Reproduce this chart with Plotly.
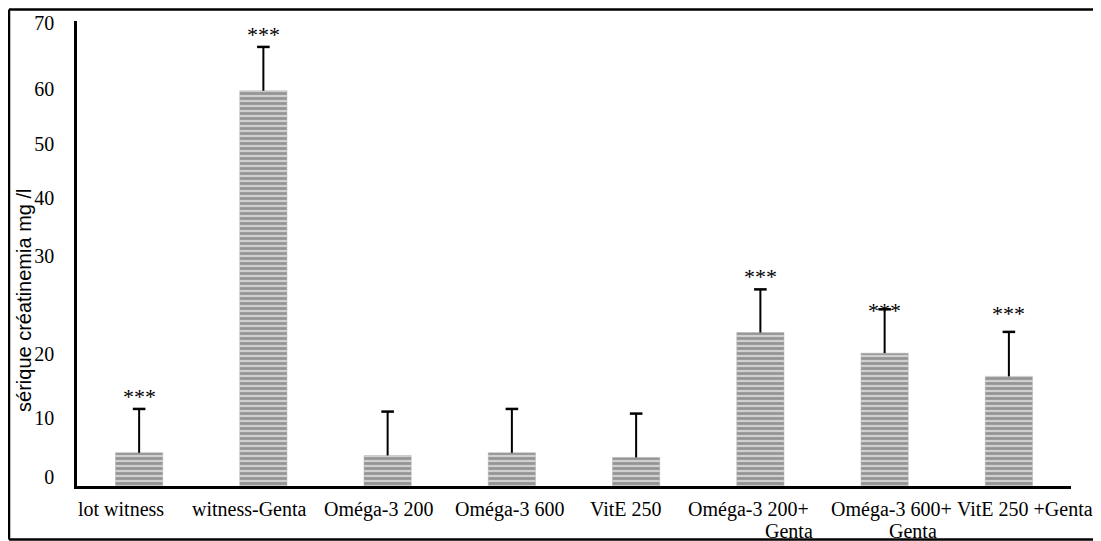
import plotly.graph_objects as go

# ---- data ----
categories = ["lot witness", "witness-Genta", "Oméga-3 200", "Oméga-3 600", "VitE 250",
              "Oméga-3 200+ Genta", "Oméga-3 600+ Genta", "VitE 250 +Genta"]
means = [5.0, 59.5, 4.6, 5.0, 4.3, 23.1, 20.0, 16.5]
sds = [6.6, 6.6, 6.6, 6.6, 6.6, 6.5, 6.6, 6.7]
stars = ["***", "***", "", "", "", "***", "***", "***"]

tick_text = ["0", "10", "20", "30", "40", "50", "60", "70"]
tick_vals = [1.35, 10.2, 19.9, 34.6, 43.3, 51.5, 59.8, 69.7]

# ---- styling (category label layout as in the reference) ----
label_lines = [["lot witness"], ["witness-Genta"], ["Oméga-3 200"], ["Oméga-3 600"],
               ["VitE 250"], ["Oméga-3 200+", "Genta"], ["Oméga-3 600+", "Genta"],
               ["VitE 250 +Genta"]]
label_xshift = [[-18], [-14], [-9], [-2], [-10], [-12, 29], [7, 28], [16]]  # px
star_shift = [12, 12, 0, 0, 0, 13, -1, 18]   # px above error cap

serif = "Liberation Serif"
sans = "Liberation Sans"

fig = go.Figure()
fig.add_trace(go.Bar(
    x=categories, y=means, width=0.38,
    marker=dict(color="#c0c0c0",
                line=dict(color="#b0b0b0", width=0.5),
                pattern=dict(shape="-", fgcolor="#585858", bgcolor="#d0d0d0",
                             size=5, solidity=0.55)),
    error_y=dict(type="data", symmetric=False, array=sds, arrayminus=[0] * len(sds),
                 color="black", thickness=2, width=0),
    showlegend=False, hoverinfo="skip"))

tops = [m + s for m, s in zip(means, sds)]
fig.add_trace(go.Scatter(
    x=categories, y=tops, mode="markers",
    marker=dict(symbol="line-ew", size=9, line=dict(color="black", width=2.5)),
    showlegend=False, hoverinfo="skip"))

for c, t, s, sh in zip(categories, tops, stars, star_shift):
    if s:
        fig.add_annotation(x=c, y=t, xref="x", yref="y", text=s, showarrow=False,
                           yanchor="middle", yshift=sh,
                           font=dict(family=serif, size=22, color="black"))

# category labels
for c, lines, shifts in zip(categories, label_lines, label_xshift):
    for i, (txt, xs) in enumerate(zip(lines, shifts)):
        fig.add_annotation(x=c, y=0, xref="x", yref="paper", text=txt, showarrow=False,
                           xanchor="center", yanchor="middle",
                           xshift=xs, yshift=-23 - 22 * i,
                           font=dict(family=serif, size=20, color="black"))

fig.add_annotation(x=-0.0533, y=0.398, xref="paper", yref="paper",
                   text="sérique créatinemia mg /l", textangle=-90, showarrow=False,
                   xanchor="center", yanchor="middle",
                   font=dict(family=sans, size=20, color="black"))

# outer frame (top, left, bottom)
frame = dict(color="black", width=2.5)
fig.add_shape(type="line", xref="paper", yref="paper", x0=-0.0684, x1=1.0252, y0=1.0247, y1=1.0247, line=frame)
fig.add_shape(type="line", xref="paper", yref="paper", x0=-0.0684, x1=-0.0684, y0=1.0247, y1=-0.1151, line=frame)
fig.add_shape(type="line", xref="paper", yref="paper", x0=-0.0684, x1=1.04, y0=-0.1151, y1=-0.1151, line=frame)

fig.update_layout(
    width=1093, height=533,
    margin=dict(l=69, r=30, t=13, b=55, autoexpand=False),
    paper_bgcolor="white", plot_bgcolor="white",
    xaxis=dict(range=[-0.5, len(categories) - 0.5], autorange=False,
               showline=True, linecolor="black", linewidth=2.5, showgrid=False,
               automargin=False, ticks="", showticklabels=False),
    yaxis=dict(range=[0, 70], autorange=False, showline=True, linecolor="black", linewidth=2.5,
               showgrid=False, zeroline=False, ticks="", automargin=False,
               tickvals=tick_vals, ticktext=tick_text, ticklabelstandoff=16,
               tickfont=dict(family=serif, size=20, color="black")),
)

fig.write_html("out.html")
